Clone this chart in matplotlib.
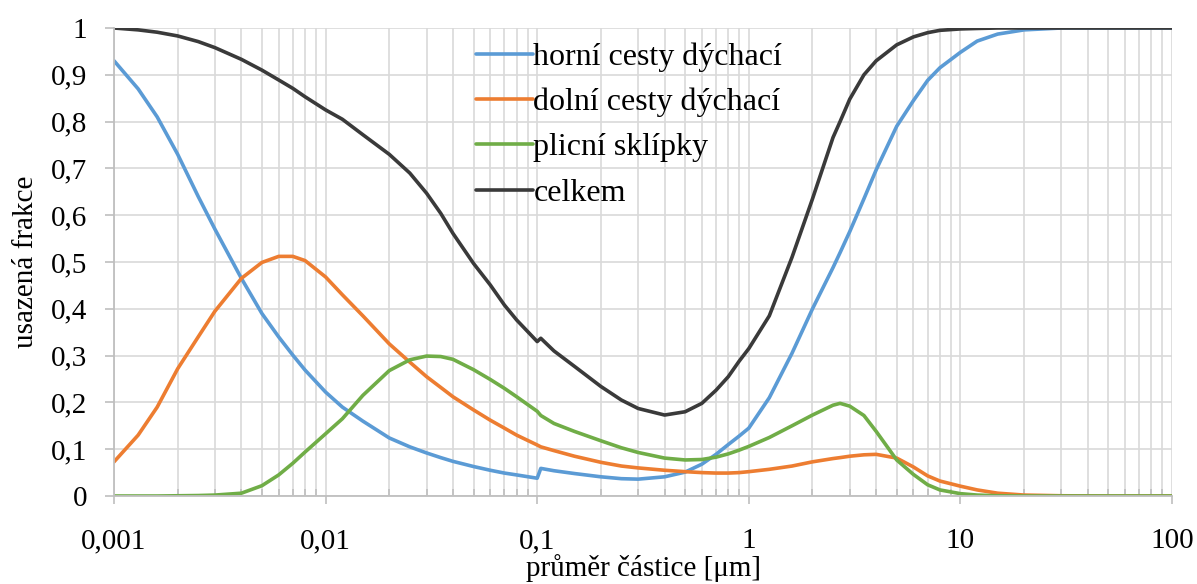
import numpy as np
import matplotlib
matplotlib.use('Agg')
import matplotlib.pyplot as plt
from matplotlib.ticker import FixedLocator, FixedFormatter, LogLocator, NullFormatter

plt.rcParams['font.family'] = ['Liberation Serif', 'DejaVu Serif']

# průměr částice [um]
prumer = [0.001, 0.0013, 0.0016, 0.002, 0.0025, 0.003, 0.004, 0.005, 0.006, 0.007,
          0.008, 0.01, 0.012, 0.015, 0.02, 0.025, 0.03, 0.035, 0.04, 0.05, 0.06,
          0.07, 0.08, 0.1, 0.104, 0.12, 0.15, 0.2, 0.25, 0.3, 0.4,
          0.5, 0.6, 0.7, 0.8, 0.9, 1, 1.25, 1.6, 2, 2.5,
          2.7, 3, 3.5, 4, 5, 6, 7, 8, 10, 12,
          15, 20, 30, 50, 100]

horni = [0.93, 0.87, 0.81, 0.73, 0.64, 0.57, 0.465, 0.39, 0.34, 0.301,
         0.269, 0.222, 0.19, 0.16, 0.124, 0.105, 0.092, 0.082, 0.074, 0.063, 0.055,
         0.049, 0.045, 0.038, 0.059, 0.054, 0.048, 0.041, 0.037, 0.036, 0.041,
         0.051, 0.068, 0.089, 0.11, 0.128, 0.145, 0.21, 0.305, 0.40, 0.488,
         0.52, 0.565, 0.635, 0.697, 0.79, 0.845, 0.888, 0.915, 0.948, 0.972,
         0.987, 0.996, 1.0, 1.0, 1.0]

dolni = [0.073, 0.13, 0.19, 0.272, 0.34, 0.395, 0.465, 0.499, 0.512, 0.512,
         0.503, 0.468, 0.43, 0.385, 0.325, 0.286, 0.255, 0.232, 0.212, 0.184, 0.162,
         0.145, 0.13, 0.109, 0.105, 0.097, 0.085, 0.072, 0.064, 0.06, 0.055,
         0.052, 0.05, 0.049, 0.049, 0.05, 0.052, 0.057, 0.064, 0.073, 0.08,
         0.082, 0.085, 0.088, 0.089, 0.081, 0.062, 0.043, 0.032, 0.021, 0.013,
         0.006, 0.002, 0.0005, 0.0, 0.0]

plicni = [0.0, 0.0, 0.0, 0.0005, 0.001, 0.002, 0.006, 0.022, 0.045, 0.07,
          0.094, 0.133, 0.165, 0.215, 0.268, 0.291, 0.299, 0.298, 0.292, 0.27, 0.249,
          0.23, 0.212, 0.181, 0.172, 0.155, 0.138, 0.118, 0.103, 0.093, 0.081,
          0.077, 0.078, 0.083, 0.09, 0.098, 0.106, 0.125, 0.15, 0.173, 0.194,
          0.198, 0.192, 0.172, 0.138, 0.077, 0.046, 0.024, 0.013, 0.005, 0.002,
          0.0005, 0.0, 0.0, 0.0, 0.0]

celkem = [1.0, 0.996, 0.991, 0.983, 0.971, 0.958, 0.933, 0.91, 0.889, 0.871,
          0.853, 0.825, 0.805, 0.772, 0.73, 0.69, 0.647, 0.604, 0.561, 0.497, 0.451,
          0.408, 0.376, 0.33, 0.337, 0.31, 0.277, 0.234, 0.205, 0.187, 0.173,
          0.18, 0.198, 0.226, 0.255, 0.288, 0.315, 0.385, 0.51, 0.635, 0.766,
          0.8, 0.848, 0.9, 0.93, 0.964, 0.981, 0.99, 0.995, 0.998, 0.999,
          1.0, 1.0, 1.0, 1.0, 1.0]

nazvy = ['horní cesty dýchací', 'dolní cesty dýchací', 'plicní sklípky', 'celkem']
barvy = ['#5B9BD5', '#ED7D31', '#70AD47', '#3A3A3A']

xticks = [0.001, 0.01, 0.1, 1, 10, 100]
xlabels = ['0,001', '0,01', '0,1', '1', '10', '100']
yticks = [0, 0.1, 0.2, 0.3, 0.4, 0.5, 0.6, 0.7, 0.8, 0.9, 1]
ylabels = ['0', '0,1', '0,2', '0,3', '0,4', '0,5', '0,6', '0,7', '0,8', '0,9', '1']

fig = plt.figure(figsize=(11.97, 5.84), dpi=100)
ax = fig.add_axes([114/1197, 1-496/584, (1172-114)/1197, (496-28)/584])

for serie, nazev, barva in zip([horni, dolni, plicni, celkem], nazvy, barvy):
    ax.plot(prumer, serie, color=barva, lw=2.6, label=nazev,
            solid_capstyle='round', solid_joinstyle='round')

ax.set_xscale('log')
ax.set_xlim(0.001, 100)
ax.set_ylim(0, 1)

ax.xaxis.set_major_locator(FixedLocator(xticks))
ax.xaxis.set_major_formatter(FixedFormatter(xlabels))
ax.xaxis.set_minor_locator(LogLocator(base=10, subs=np.arange(2, 10)))
ax.xaxis.set_minor_formatter(NullFormatter())
ax.yaxis.set_major_locator(FixedLocator(yticks))
ax.yaxis.set_major_formatter(FixedFormatter(ylabels))

ax.grid(True, which='both', color='#D9D9D9', lw=1.2)
ax.set_axisbelow(True)
for s in ['top', 'right']:
    ax.spines[s].set_visible(False)
for s in ['left', 'bottom']:
    ax.spines[s].set_color('#BFBFBF')
    ax.spines[s].set_linewidth(1.3)

ax.tick_params(axis='x', which='major', direction='out', length=6, width=1.2,
               color='#BFBFBF', labelsize=21, pad=17)
ax.tick_params(axis='x', which='minor', direction='in', length=5, width=1.2,
               color='#BFBFBF')
ax.tick_params(axis='y', which='major', direction='out', length=6.5, width=1.2,
               color='#BFBFBF', labelsize=21, pad=13)

ax.set_xlabel('průměr částice [μm]', fontsize=21, labelpad=0)
ax.set_ylabel('usazená frakce', fontsize=21, labelpad=8)

ax.legend(loc='upper left', bbox_to_anchor=(0.33, 0.997), frameon=False,
          fontsize=23, handlelength=1.8, handletextpad=0.0, labelspacing=0.5,
          borderaxespad=0)

fig.savefig('out.png', dpi=100)
